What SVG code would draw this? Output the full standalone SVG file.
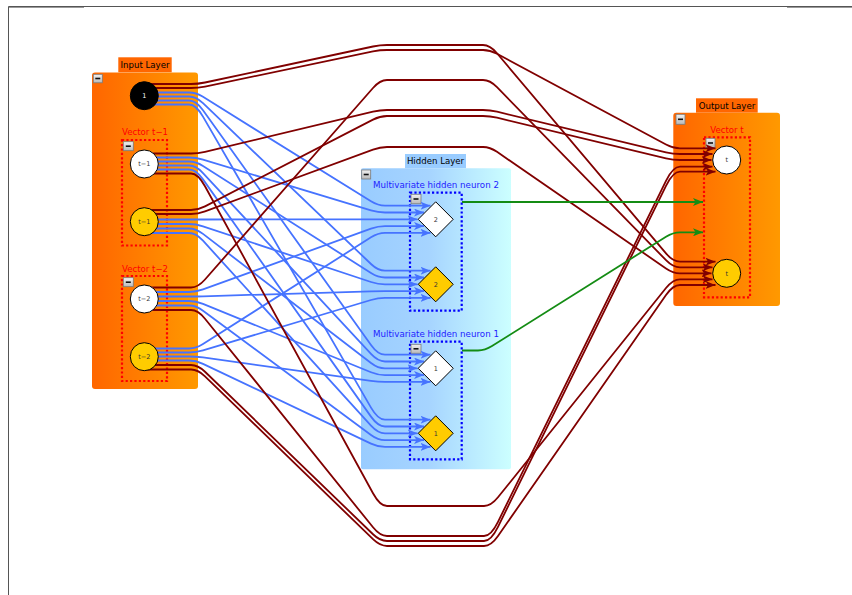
<svg xmlns="http://www.w3.org/2000/svg" width="852" height="595" viewBox="0 0 852 595">
  <defs>
    <linearGradient id="gOrange" x1="0" y1="0" x2="1" y2="0">
      <stop offset="0" stop-color="#FF6600"/>
      <stop offset="1" stop-color="#FF9900"/>
    </linearGradient>
    <linearGradient id="gBlue" x1="0" y1="0" x2="1" y2="0">
      <stop offset="0" stop-color="#99CCFF"/>
      <stop offset="0.45" stop-color="#A6D4FF"/>
      <stop offset="1" stop-color="#CCFFFF"/>
    </linearGradient>
    <linearGradient id="gBtn" x1="0" y1="0" x2="0" y2="1">
      <stop offset="0" stop-color="#F2F2F2"/>
      <stop offset="1" stop-color="#B8B8B8"/>
    </linearGradient>
    <marker id="arBlue" viewBox="0 0 10 8" refX="10" refY="4" markerWidth="10" markerHeight="8" markerUnits="userSpaceOnUse" orient="auto">
      <path d="M0,0 L10,4 L0,8 L2.5,4 z" fill="#4673FF"/>
    </marker>
    <marker id="arRed" viewBox="0 0 10 8" refX="10" refY="4" markerWidth="10" markerHeight="8" markerUnits="userSpaceOnUse" orient="auto">
      <path d="M0,0 L10,4 L0,8 L2.5,4 z" fill="#800000"/>
    </marker>
    <marker id="arGreen" viewBox="0 0 10 8" refX="10" refY="4" markerWidth="10" markerHeight="8" markerUnits="userSpaceOnUse" orient="auto">
      <path d="M0,0 L10,4 L0,8 L2.5,4 z" fill="#148C14"/>
    </marker>
  </defs>
  <style>
    text { font-family: "DejaVu Sans", "Liberation Sans", sans-serif; }
    .tab { font-size: 8.6px; fill: #000; text-anchor: middle; }
    .vlbl { font-size: 8.6px; fill: #FF0000; text-anchor: middle; }
    .hlbl { font-size: 8.7px; fill: #2222FF; text-anchor: middle; }
    .nlbl { font-size: 6.5px; fill: #333; text-anchor: middle; }
    .dotRed { fill: none; stroke: #FF0000; stroke-width: 2.2; stroke-dasharray: 2.2 2.2; }
    .dotBlue { fill: none; stroke: #0000FF; stroke-width: 2.2; stroke-dasharray: 2.2 2.2; }
    .btn rect { fill: url(#gBtn); stroke: #7A7A7A; stroke-width: 0.8; }
    .btn path { stroke: #111; stroke-width: 1.6; }
    .blue path { fill: none; stroke: #4673FF; stroke-width: 1.8; marker-end: url(#arBlue); }
    .red path { fill: none; stroke: #800000; stroke-width: 1.8; marker-end: url(#arRed); }
    .green path { fill: none; stroke: #148C14; stroke-width: 1.8; marker-end: url(#arGreen); }
    .node { stroke: #000; stroke-width: 1; }
  </style>

  <!-- page frame -->
  <path d="M8.5,595 V6.5 H852" fill="none" stroke="#555" stroke-width="1"/>
  <path d="M9,7.5 H84 M787,7.5 H852" fill="none" stroke="#9A9A9A" stroke-width="1"/>

  <!-- input layer group -->
  <g id="input-layer">
    <rect x="118.3" y="57.3" width="53.4" height="15" fill="#FF6600"/>
    <text class="tab" x="145" y="68">Input Layer</text>
    <rect x="92" y="72.5" width="106" height="316.5" rx="3" fill="url(#gOrange)"/>
    <g class="btn"><rect x="93.3" y="74.3" width="9" height="8.5"/><path d="M95.3,78.5 H100.3"/></g>
  </g>
  <g id="vector-t1">
    <text class="vlbl" x="145" y="135">Vector t−1</text>
    <rect class="dotRed" x="122" y="140" width="45" height="105.5"/>
    <g class="btn"><rect x="123.3" y="141.7" width="10" height="9"/><path d="M125.8,146.2 H130.8"/></g>
  </g>
  <g id="vector-t2">
    <text class="vlbl" x="145" y="271.5">Vector t−2</text>
    <rect class="dotRed" x="122" y="276" width="45" height="105"/>
    <g class="btn"><rect x="123.3" y="277.7" width="10" height="9"/><path d="M125.8,282.2 H130.8"/></g>
  </g>

  <!-- hidden layer group -->
  <g id="hidden-layer">
    <rect x="405" y="154" width="61" height="14.3" fill="#99CCFF"/>
    <text class="tab" x="435.5" y="164.3">Hidden Layer</text>
    <rect x="361" y="168.3" width="150" height="301" rx="2" fill="url(#gBlue)"/>
    <g class="btn"><rect x="361.7" y="170" width="9" height="9"/><path d="M363.7,174.5 H368.7"/></g>
  </g>
  <g id="hidden-neuron-2">
    <text class="hlbl" x="436" y="187.5">Multivariate hidden neuron 2</text>
    <rect class="dotBlue" x="410" y="192.7" width="51.7" height="118"/>
    <g class="btn"><rect x="411" y="194.3" width="10" height="9.5"/><path d="M413.5,199 H418.5"/></g>
  </g>
  <g id="hidden-neuron-1">
    <text class="hlbl" x="436" y="336.5">Multivariate hidden neuron 1</text>
    <rect class="dotBlue" x="410" y="341.7" width="51.7" height="117.6"/>
    <g class="btn"><rect x="411" y="344.3" width="10" height="9"/><path d="M413.5,348.8 H418.5"/></g>
  </g>

  <!-- output layer group -->
  <g id="output-layer">
    <rect x="696" y="98.3" width="61.7" height="14.4" fill="#FF6600"/>
    <text class="tab" x="727" y="109.3">Output Layer</text>
    <rect x="673.3" y="112.7" width="106.7" height="193.3" rx="3" fill="url(#gOrange)"/>
    <g class="btn"><rect x="676" y="114.3" width="9" height="10"/><path d="M678,119.3 H683"/></g>
  </g>
  <g id="vector-t">
    <text class="vlbl" x="727" y="132.5">Vector t</text>
    <rect class="dotRed" x="704" y="137.3" width="46" height="160"/>
    <g class="btn"><rect x="706" y="138.3" width="9" height="9.4"/><path d="M708,143 H713"/></g>
  </g>

  <!-- connectors: straight runs with rounded bends -->
  <g id="connectors">
    <g class="blue">
      <!-- bias -->
      <path d="M145,92.5 H189 Q196,92.5 203,96.85 L371,201.35 Q378,205.7 385,205.7 H430.5"/>
      <path d="M145,96.5 H189 Q196,96.5 203,103.2 L371,264 Q378,270.7 385,270.7 H430.5"/>
      <path d="M145,100.5 H189 Q196,100.5 203,110.28 L371,344.92 Q378,354.7 385,354.7 H430.5"/>
      <path d="M145,104.5 H189 Q196,104.5 203,116.62 L371,407.58 Q378,419.7 385,419.7 H430.5"/>
      <!-- t-1 white -->
      <path d="M145,157.5 H189 Q196,157.5 203,159.62 L371,210.38 Q378,212.5 385,212.5 H424"/>
      <path d="M145,161.5 H189 Q196,161.5 203,165.96 L371,273.04 Q378,277.5 385,277.5 H424"/>
      <path d="M145,165.5 H189 Q196,165.5 203,173.04 L371,353.96 Q378,361.5 385,361.5 H424"/>
      <path d="M145,169.5 H189 Q196,169.5 203,179.38 L371,416.62 Q378,426.5 385,426.5 H424"/>
      <!-- t-1 yellow -->
      <path d="M145,219.5 H189 Q196,219.5 203,219.49 L371,219.31 Q378,219.3 385,219.3 H417.5"/>
      <path d="M145,224 H189 Q196,224 203,226.32 L371,281.98 Q378,284.3 385,284.3 H417.5"/>
      <path d="M145,228.5 H189 Q196,228.5 203,233.88 L371,362.92 Q378,368.3 385,368.3 H417.5"/>
      <path d="M145,233 H189 Q196,233 203,240.7 L371,425.6 Q378,433.3 385,433.3 H417.5"/>
      <!-- t-2 white -->
      <path d="M145,292 H189 Q196,292 203,289.47 L371,228.63 Q378,226.1 385,226.1 H424"/>
      <path d="M145,296.5 H189 Q196,296.5 203,296.29 L371,291.31 Q378,291.1 385,291.1 H424"/>
      <path d="M145,301 H189 Q196,301 203,303.85 L371,372.25 Q378,375.1 385,375.1 H424"/>
      <path d="M145,305.5 H189 Q196,305.5 203,310.68 L371,434.92 Q378,440.1 385,440.1 H424"/>
      <!-- t-2 yellow -->
      <path d="M145,348.5 H189 Q196,348.5 203,344.05 L371,237.35 Q378,232.9 385,232.9 H430.5"/>
      <path d="M145,352.5 H189 Q196,352.5 203,350.4 L371,300 Q378,297.9 385,297.9 H430.5"/>
      <path d="M145,356.5 H189 Q196,356.5 203,357.48 L371,380.92 Q378,381.9 385,381.9 H430.5"/>
      <path d="M145,360.5 H189 Q196,360.5 203,363.82 L371,443.58 Q378,446.9 385,446.9 H430.5"/>
    </g>
    <g class="red">
      <!-- routed over the top -->
      <path d="M145,84 H191 Q198,84 205,82.5 L373,46.5 Q380,45 387,45 H483 Q490,45 497,53.29 L666,253.41 Q673,261.7 680,261.7 H715.5"/>
      <path d="M145,88 H191 Q198,88 205,86.54 L373,51.46 Q380,50 387,50 H483 Q490,50 497,53.76 L666,144.54 Q673,148.3 680,148.3 H715.5"/>
      <path d="M145,153.5 H191 Q198,153.5 205,151.83 L373,111.67 Q380,110 387,110 H483 Q490,110 497,111.68 L666,152.32 Q673,154 680,154 H712.5"/>
      <path d="M145,210 H191 Q198,210 205,206.38 L373,119.62 Q380,116 387,116 H483 Q490,116 497,117.68 L666,158.32 Q673,160 680,160 H711.5"/>
      <path d="M145,214 H191 Q198,214 205,211.42 L373,149.58 Q380,147 387,147 H483 Q490,147 497,151.83 L666,268.47 Q673,273.3 680,273.3 H711.5"/>
      <path d="M145,287.5 H191 Q198,287.5 205,279.52 L373,87.98 Q380,80 387,80 H483 Q490,80 497,87.16 L666,260.14 Q673,267.3 680,267.3 H712.5"/>
      <!-- routed under the bottom -->
      <path d="M145,173.5 H191 Q198,173.5 205,186.29 L373,493.21 Q380,506 387,506 H484 Q491,506 498,497.28 L666,288.02 Q673,279.3 680,279.3 H712.5"/>
      <path d="M145,310 H191 Q198,310 205,318.69 L373,527.31 Q380,536 387,536 H484 Q491,536 498,521.8 L666,180.9 Q673,166.7 680,166.7 H712.5"/>
      <path d="M145,365 H191 Q198,365 205,371.77 L373,534.23 Q380,541 387,541 H484 Q491,541 498,526.8 L666,185.9 Q673,171.7 680,171.7 H715.5"/>
      <path d="M145,369.5 H191 Q198,369.5 205,376.29 L373,539.21 Q380,546 387,546 H484 Q491,546 498,535.96 L666,295.04 Q673,285 680,285 H715.5"/>
    </g>
    <g class="green">
      <path d="M462,202 H703"/>
      <path d="M462,350.5 H478 Q485,350.5 492,346.1 L666,236.7 Q673,232.3 680,232.3 H703"/>
    </g>
  </g>

  <!-- nodes -->
  <g id="n-bias">
    <circle class="node" cx="144.3" cy="95.7" r="14" fill="#000"/>
    <text class="nlbl" x="144.3" y="98" style="fill:#fff">1</text>
  </g>
  <g id="n-t1-a">
    <circle class="node" cx="144.3" cy="164" r="14" fill="#fff"/>
    <text class="nlbl" x="144.3" y="166.3">t−1</text>
  </g>
  <g id="n-t1-b">
    <circle class="node" cx="144.3" cy="221.7" r="14" fill="#FFCC00"/>
    <text class="nlbl" x="144.3" y="224">t−1</text>
  </g>
  <g id="n-t2-a">
    <circle class="node" cx="144.3" cy="299" r="14" fill="#fff"/>
    <text class="nlbl" x="144.3" y="301.3">t−2</text>
  </g>
  <g id="n-t2-b">
    <circle class="node" cx="144.3" cy="356.7" r="14" fill="#FFCC00"/>
    <text class="nlbl" x="144.3" y="359">t−2</text>
  </g>
  <g id="h2-a">
    <path class="node" d="M435.7,201.8 L453.2,219.3 L435.7,236.8 L418.2,219.3 Z" fill="#fff"/>
    <text class="nlbl" x="435.7" y="221.6">2</text>
  </g>
  <g id="h2-b">
    <path class="node" d="M435.7,266.8 L453.2,284.3 L435.7,301.8 L418.2,284.3 Z" fill="#FFCC00"/>
    <text class="nlbl" x="435.7" y="286.6">2</text>
  </g>
  <g id="h1-a">
    <path class="node" d="M435.7,350.8 L453.2,368.3 L435.7,385.8 L418.2,368.3 Z" fill="#fff"/>
    <text class="nlbl" x="435.7" y="370.6">1</text>
  </g>
  <g id="h1-b">
    <path class="node" d="M435.7,415.8 L453.2,433.3 L435.7,450.8 L418.2,433.3 Z" fill="#FFCC00"/>
    <text class="nlbl" x="435.7" y="435.6">1</text>
  </g>
  <g id="out-a">
    <circle class="node" cx="726.7" cy="160" r="14" fill="#fff"/>
    <text class="nlbl" x="726.7" y="162.3">t</text>
  </g>
  <g id="out-b">
    <circle class="node" cx="726.7" cy="273.3" r="14" fill="#FFCC00"/>
    <text class="nlbl" x="726.7" y="275.6">t</text>
  </g>
</svg>
